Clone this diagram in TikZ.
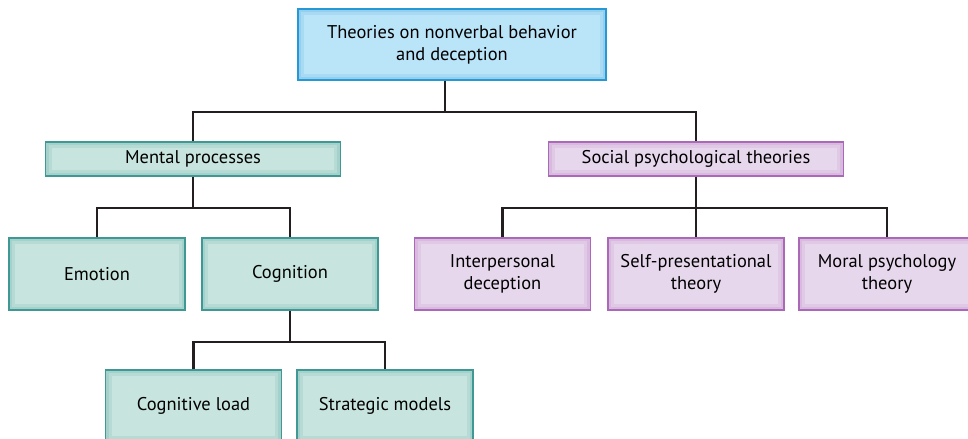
\documentclass[tikz,border=0pt]{standalone}
\usepackage{fontspec}
\setmainfont{PT Sans}
\usepackage{xcolor}
\usetikzlibrary{positioning}

\definecolor{bluefill}{RGB}{186,228,248}
\definecolor{blueline}{RGB}{38,152,214}
\definecolor{tealfill}{RGB}{199,229,222}
\definecolor{tealline}{RGB}{64,152,148}
\definecolor{purpfill}{RGB}{231,215,236}
\definecolor{purpline}{RGB}{172,104,184}
\definecolor{linkcol}{RGB}{35,31,32}

\begin{document}
\begin{tikzpicture}[x=0.02cm,y=-0.02cm,
	box/.style={draw, line width=0.8pt, align=center, inner sep=0pt,
		font=\fontsize{10.5}{12.6}\selectfont,
		path picture={
			\draw[line width=7pt, #1, opacity=0.12]
			(path picture bounding box.south west) rectangle (path picture bounding box.north east);
			\draw[line width=3.5pt, #1, opacity=0.15]
			(path picture bounding box.south west) rectangle (path picture bounding box.north east);}},
	topbox/.style={box=blueline, fill=bluefill, draw=blueline, minimum width=6.16cm, minimum height=1.42cm},
	tealbox/.style={box=tealline, fill=tealfill, draw=tealline, minimum width=3.52cm, minimum height=1.44cm},
	purpbox/.style={box=purpline, fill=purpfill, draw=purpline, minimum width=3.52cm, minimum height=1.44cm},
	headbox/.style={minimum width=5.9cm, minimum height=0.68cm},
	link/.style={draw=linkcol, line width=1.3pt}]
	\useasboundingbox (0,0) rectangle (968,439);
	\node[topbox] (A) at (452,44.5) {Theories on nonverbal behavior\\and deception};
	\node[tealbox,headbox] (B) at (193,159) {Mental processes};
	\node[purpbox,headbox] (C) at (696,159) {Social psychological theories};
	\node[tealbox] (D) at (97,274) {Emotion};
	\node[tealbox] (E) at (290,274) {Cognition};
	\node[purpbox] (F) at (502.5,274) {Interpersonal\\deception};
	\node[purpbox] (G) at (696,274) {Self-presentational\\theory};
	\node[purpbox] (H) at (887,274) {Moral psychology\\theory};
	\node[tealbox] (I) at (193.5,406) {Cognitive load};
	\node[tealbox] (J) at (385,406) {Strategic models};
	%
	%  JUNCTIONS
	%
	\coordinate (a) at (445,112);
	\coordinate (b) at (193,208);
	\coordinate (c) at (696,208);
	\coordinate (d) at (290,342);
	%
	\draw[link] (a |- A.south) -- (a);
	\draw[link] (B.north) |- (a) -| (C.north);
	\draw[link] (B.south) -- (b);
	\draw[link] (D.north) |- (b) -| (E.north);
	\draw[link] (C.south) -- (G.north);
	\draw[link] (F.north) |- (c) -| (H.north);
	\draw[link] (E.south) -- (d);
	\draw[link] (I.north) |- (d) -| (J.north);
\end{tikzpicture}
\end{document}
